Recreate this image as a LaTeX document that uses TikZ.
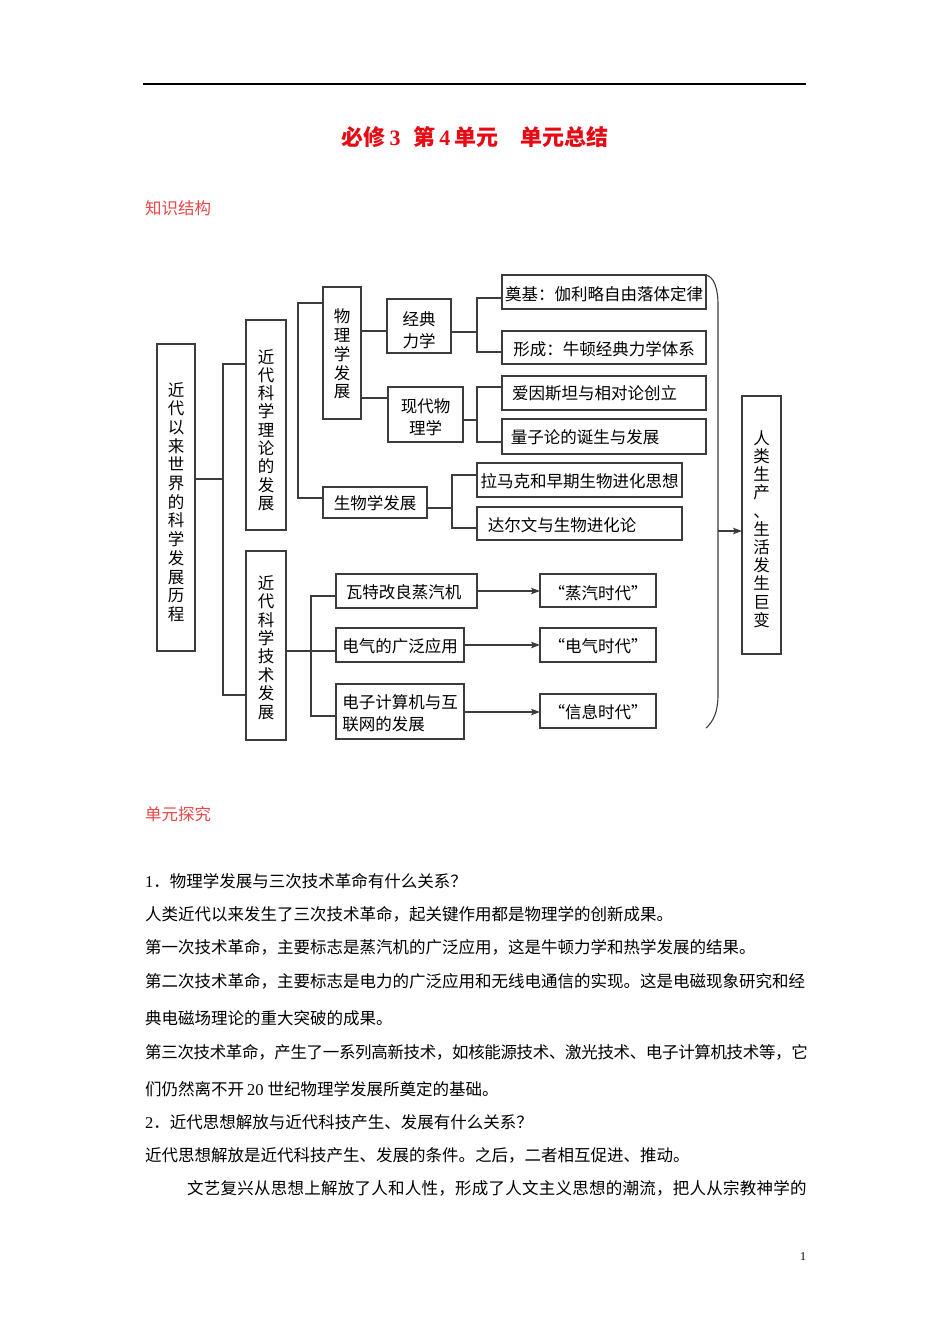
\documentclass[tikz,border=0pt]{standalone}
\usepackage{fontspec}
\setmainfont{Noto Sans CJK SC}
\newfontfamily\lat{Liberation Serif}
\usetikzlibrary{arrows.meta}
\definecolor{titred}{RGB}{230,10,20}
\definecolor{headred}{RGB}{235,70,70}
\definecolor{ink}{RGB}{60,60,60}
\tikzset{
 bx/.style={draw=ink, line width=1.2pt, inner sep=0pt, outer sep=0pt},
 txt/.style={inner sep=0pt, align=center, font=\fontsize{16.5}{22}\selectfont},
 ln/.style={draw=ink, line width=1.1pt},
 arr/.style={ln, -{Stealth[length=9pt,width=6.5pt,inset=2pt]}},
 body/.style={anchor=west, inner sep=0pt, font=\fontsize{16.5}{20}\selectfont},
}
\newcommand\bx[8]{%
 \node[bx, minimum width={#4-#2}, minimum height={#5-#3}] (#1) at ({(#2+#4)/2},{-(#3+#5)/2}) {};
 \node[txt,#7] (#1-t) at ({(#2+#4)/2},{-(#3+#5)/2-#6}) {#8};}
\begin{document}
\begin{tikzpicture}[x=1pt,y=1pt]
\fill[white] (0,0) rectangle (950,-1344);
\useasboundingbox (0,0) rectangle (950,-1344);
% top rule
\coordinate (r1) at (143,-84);
\coordinate (r2) at (806,-84);
\draw[line width=1.2pt] (r1) -- (r2);
% title
\node[inner sep=0pt, text=titred, font=\fontsize{22}{26}\selectfont\bfseries] (title) at (475,-137)
 {必修\,{\lat\bfseries 3}\hspace{0.6em}第\,{\lat\bfseries 4}\,单元\quad 单元总结};
\node[body, text=headred] (h1) at (145,-208) {知识结构};
\node[body, text=headred] (h2) at (145,-814) {单元探究};

% boxes
\bx{main}{157}{344}{195}{651}{4.5}{font=\fontsize{16.5}{18.7}\selectfont}{近\\代\\以\\来\\世\\界\\的\\科\\学\\发\\展\\历\\程}
\bx{theory}{246}{320}{286}{530}{5}{font=\fontsize{16.5}{18.3}\selectfont}{近\\代\\科\\学\\理\\论\\的\\发\\展}
\bx{tech}{246}{551}{286}{740}{2}{font=\fontsize{16.5}{18.4}\selectfont}{近\\代\\科\\学\\技\\术\\发\\展}
\bx{phys}{323}{287}{361}{419}{1}{font=\fontsize{16.5}{18.75}\selectfont}{物\\理\\学\\发\\展}
\bx{bio}{323}{487}{427}{518}{0.5}{}{生物学发展}
\bx{classic}{387}{299}{451}{353}{4}{}{经典\\力学}
\bx{modern}{388}{387}{463}{442}{3}{}{现代物\\理学}
\bx{galileo}{502}{275}{706}{309}{2.5}{}{奠基：伽利略自由落体定律}
\bx{newton}{502}{331}{706}{364}{1.5}{}{形成：牛顿经典力学体系}
\bx{einstein}{502}{376}{706}{410}{0.5}{xshift=-9.5}{爱因斯坦与相对论创立}
\bx{quantum}{502}{419}{706}{454}{0.5}{xshift=-19}{量子论的诞生与发展}
\bx{lamarck}{477}{463}{682}{497}{1.5}{}{拉马克和早期生物进化思想}
\bx{darwin}{477}{507}{682}{540}{1.5}{xshift=-17.5}{达尔文与生物进化论}
\bx{watt}{336}{574}{477}{608}{1.5}{xshift=-3}{瓦特改良蒸汽机}
\bx{elec}{336}{628}{464}{662}{1.5}{}{电气的广泛应用}
\bx{comp}{336}{684}{464}{739}{1.5}{align=left}{电子计算机与互\\联网的发展}
\bx{steam}{540}{574}{656}{607}{2.5}{}{“蒸汽时代”}
\bx{eage}{540}{628}{656}{662}{1.5}{}{“电气时代”}
\bx{info}{540}{694}{656}{728}{1.5}{}{“信息时代”}
\bx{human}{742}{396}{781}{654}{4}{font=\fontsize{16.5}{18.2}\selectfont}{人\\类\\生\\产\\、\\生\\活\\发\\生\\巨\\变}

% connectors
\draw[ln] (main.east |- 0,-479) -- (223,-479);
\draw[ln] (theory.west |- 0,-364) -| (223,-695) -- (tech.west |- 0,-695);
\draw[ln] (phys.west |- 0,-303) -| (298,-498) -- (bio.west |- 0,-498);
\draw[ln] (phys.east |- 0,-331) -- (classic.west |- 0,-331);
\draw[ln] (phys.east |- 0,-398) -- (modern.west |- 0,-398);
\draw[ln] (classic.east |- 0,-332) -- (477,-332);
\draw[ln] (galileo.west |- 0,-298) -| (477,-352) -- (newton.west |- 0,-352);
\draw[ln] (modern.east |- 0,-420) -- (477,-420);
\draw[ln] (einstein.west |- 0,-387) -| (477,-442) -- (quantum.west |- 0,-442);
\draw[ln] (bio.east |- 0,-508) -- (452,-508);
\draw[ln] (lamarck.west |- 0,-475) -| (452,-528) -- (darwin.west |- 0,-528);
\draw[ln] (tech.east |- 0,-651) -- (elec.west |- 0,-651);
\draw[ln] (watt.west |- 0,-596) -| (311,-716) -- (comp.west |- 0,-716);
\draw[arr] (watt.east |- 0,-591) -- (steam.west |- 0,-591);
\draw[arr] (elec.east |- 0,-645) -- (eage.west |- 0,-645);
\draw[arr] (comp.east |- 0,-712) -- (info.west |- 0,-712);
% bracket
\coordinate (bend) at (706,-728);
\draw[ln] (galileo.north east) .. controls (714,-277) and (718,-288) .. (718,-305) -- (718,-695) .. controls (718,-712) and (713,-722) .. (bend);
\coordinate (bmid) at (718,-531);
\draw[arr] (bmid) -- (human.west |- bmid);

% body text
\node[body] (l1) at (145,-881) {{\lat 1}．物理学发展与三次技术革命有什么关系？};
\node[body] (l2) at (145,-914) {人类近代以来发生了三次技术革命，起关键作用都是物理学的创新成果。};
\node[body] (l3) at (145,-947) {第一次技术革命，主要标志是蒸汽机的广泛应用，这是牛顿力学和热学发展的结果。};
\node[body] (l4) at (145,-981) {第二次技术革命，主要标志是电力的广泛应用和无线电通信的实现。这是电磁现象研究和经};
\node[body] (l5) at (145,-1018) {典电磁场理论的重大突破的成果。};
\node[body] (l6) at (145,-1052) {\addfontfeature{LetterSpace=-2.1}第三次技术革命，产生了一系列高新技术，如核能源技术、激光技术、电子计算机技术等，它};
\node[body] (l7) at (145,-1089) {们仍然离不开\hspace{3pt}{\lat 20}\hspace{4pt}世纪物理学发展所奠定的基础。};
\node[body] (l8) at (145,-1122) {{\lat 2}．近代思想解放与近代科技产生、发展有什么关系？};
\node[body] (l9) at (145,-1155) {近代思想解放是近代科技产生、发展的条件。之后，二者相互促进、推动。};
\node[body] (l10) at (187,-1188) {\addfontfeature{LetterSpace=1.5}文艺复兴从思想上解放了人和人性，形成了人文主义思想的潮流，把人从宗教神学的};
\node[inner sep=0pt, font=\lat\fontsize{12}{14}\selectfont] (pg) at (803,-1257) {1};
\end{tikzpicture}
\end{document}
